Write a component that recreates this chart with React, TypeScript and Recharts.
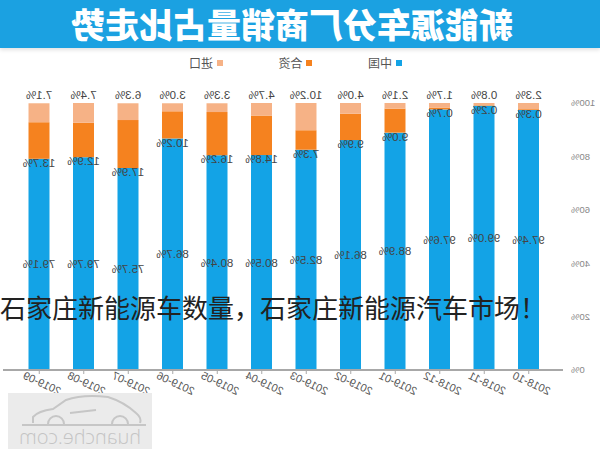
import React from 'react';
import { BarChart, Bar, XAxis, YAxis, LabelList } from 'recharts';

const months = ['2018-10', '2018-11', '2018-12', '2019-01', '2019-02', '2019-03', '2019-04', '2019-05', '2019-06', '2019-07', '2019-08', '2019-09'];
const domestic = [97.4, 99.0, 97.6, 88.9, 86.1, 82.5, 80.5, 80.4, 86.7, 75.7, 79.7, 79.1];
const jointVenture = [0.3, 0.2, 0.7, 9.0, 9.9, 7.3, 14.8, 16.2, 10.2, 17.9, 12.9, 13.7];
const imported = [2.3, 0.8, 1.7, 2.1, 4.0, 10.2, 4.7, 3.3, 3.0, 6.3, 7.4, 7.1];
const yTicks = [0, 20, 40, 60, 80, 100];
const seriesNames = ['中国', '合资', '进口'];

const data = months.map((m, i) => ({ month: m, cn: domestic[i], jv: jointVenture[i], im: imported[i] }));

const BLUE = '#13a3e6';
const ORANGE = '#f5821f';
const PEACH = '#f6b286';
const seriesColors = [BLUE, ORANGE, PEACH];
const LATIN = 'Liberation Sans, Arial, sans-serif';
const CJK = '"Noto Sans CJK SC", "Noto Sans", sans-serif';

const mkLabel = (mode: 'center' | 'bottom' | 'top') => (props: any) => {
  const x = Number(props.x);
  const y = Number(props.y);
  const w = Number(props.width);
  const h = Number(props.height);
  const cx = x + w / 2;
  let cy = y + h / 2;
  if (mode === 'bottom') cy = y + h + 4;
  if (mode === 'top') cy = y - 8;
  return (
    <text x={cx} y={cy} textAnchor="middle" dominantBaseline="central" fontSize={11.5} fill="#444" fontFamily={LATIN}>
      {Number(props.value).toFixed(1)}%
    </text>
  );
};

const XTick = (props: any) => {
  const { x, y, payload } = props;
  return (
    <g transform={`translate(${x - 3},${y + 7}) rotate(-25)`}>
      <text textAnchor="middle" dominantBaseline="central" fontSize={11} fill="#555" fontFamily={LATIN}>
        {payload.value}
      </text>
    </g>
  );
};

const LegendBox = () => (
  <div style={{ position: 'absolute', top: 55, left: 198, display: 'flex', alignItems: 'center', height: 16 }}>
    {seriesNames.map((n, i) => (
      <div key={n} style={{ width: 89.5, display: 'flex', alignItems: 'center' }}>
        <span style={{ display: 'inline-block', width: 6, height: 6, background: seriesColors[i], marginRight: 4 }} />
        <span style={{ fontSize: 12, color: '#555', fontFamily: CJK, lineHeight: '16px' }}>{n}</span>
      </div>
    ))}
  </div>
);

const Watermark = () => (
  <svg width={144} height={56} style={{ position: 'absolute', left: 448, top: 393 }}>
    <rect x={0} y={0} width={144} height={56} fill="#ebebeb" />
    <g transform="translate(144,0) scale(-1,1)" fill="none" stroke="#c6c6c6" strokeWidth={2}>
      <path d="M25,30 L25,24 Q30,18 45,16 L58,7 Q75,1 100,4 Q116,9 128,20 Q134,25 132,30" />
      <path d="M40,31 A8,8 0 0 1 56,31" />
      <path d="M104,31 A8,8 0 0 1 120,31" />
      <path d="M62,20 L88,17" />
      <path d="M14,32 L138,32" />
    </g>
    <text x={72} y={51} textAnchor="middle" fontSize={20} fill="#c4c4c4" fontFamily="Open Sans, sans-serif" fontWeight={300}>
      huanche.com
    </text>
  </svg>
);

export default function App() {
  return (
    <div style={{ position: 'absolute', left: 0, top: 0, width: 600, height: 449, overflow: 'hidden', background: '#fff' }}>
      <div style={{ position: 'absolute', left: 0, top: 0, width: 600, height: 449, transform: 'scaleX(-1)' }}>
        <div
          style={{
            position: 'absolute',
            left: 0,
            top: 0,
            width: 600,
            height: 48,
            background: '#1ba1e1',
            boxShadow: '0 2px 4px rgba(0,0,0,0.12)',
          }}
        >
          <div
            style={{
              position: 'absolute',
              left: 0,
              top: 0,
              width: 616,
              height: 48,
              lineHeight: '48px',
              textAlign: 'center',
              color: '#fff',
              fontSize: 34,
              fontWeight: 900,
              fontFamily: CJK,
            }}
          >
            新能源车分厂商销量占比走势
          </div>
        </div>
        <LegendBox />
        <div style={{ position: 'absolute', left: 0, top: 0 }}>
          <BarChart width={600} height={449} data={data} margin={{ top: 103, right: 3, bottom: 49, left: 0 }}>
            <XAxis
              dataKey="month"
              interval={0}
              height={30}
              padding={{ left: 12, right: 14 }}
              axisLine={{ stroke: '#a8a8a8', strokeWidth: 2 }}
              tickLine={{ stroke: '#a8a8a8' }}
              tickSize={4}
              tick={<XTick />}
            />
            <YAxis
              domain={[0, 100]}
              ticks={yTicks}
              tickFormatter={(v: number) => `${v}%`}
              axisLine={false}
              tickLine={false}
              width={37}
              tick={{ fontSize: 9.5, fill: '#888', fontFamily: LATIN }}
            />
            <Bar dataKey="cn" name={seriesNames[0]} stackId="a" fill={BLUE} barSize={21} isAnimationActive={false}>
              <LabelList dataKey="cn" content={mkLabel('center')} />
            </Bar>
            <Bar dataKey="jv" name={seriesNames[1]} stackId="a" fill={ORANGE} barSize={21} isAnimationActive={false}>
              <LabelList dataKey="jv" content={mkLabel('bottom')} />
            </Bar>
            <Bar dataKey="im" name={seriesNames[2]} stackId="a" fill={PEACH} barSize={21} isAnimationActive={false}>
              <LabelList dataKey="im" content={mkLabel('top')} />
            </Bar>
          </BarChart>
        </div>
        <Watermark />
      </div>
      <div
        style={{
          position: 'absolute',
          left: 0,
          top: 292,
          width: 600,
          whiteSpace: 'nowrap',
          fontSize: 26,
          lineHeight: '30px',
          color: '#222',
          fontFamily: CJK,
        }}
      >
        石家庄新能源车数量，石家庄新能源汽车市场！
      </div>
    </div>
  );
}
